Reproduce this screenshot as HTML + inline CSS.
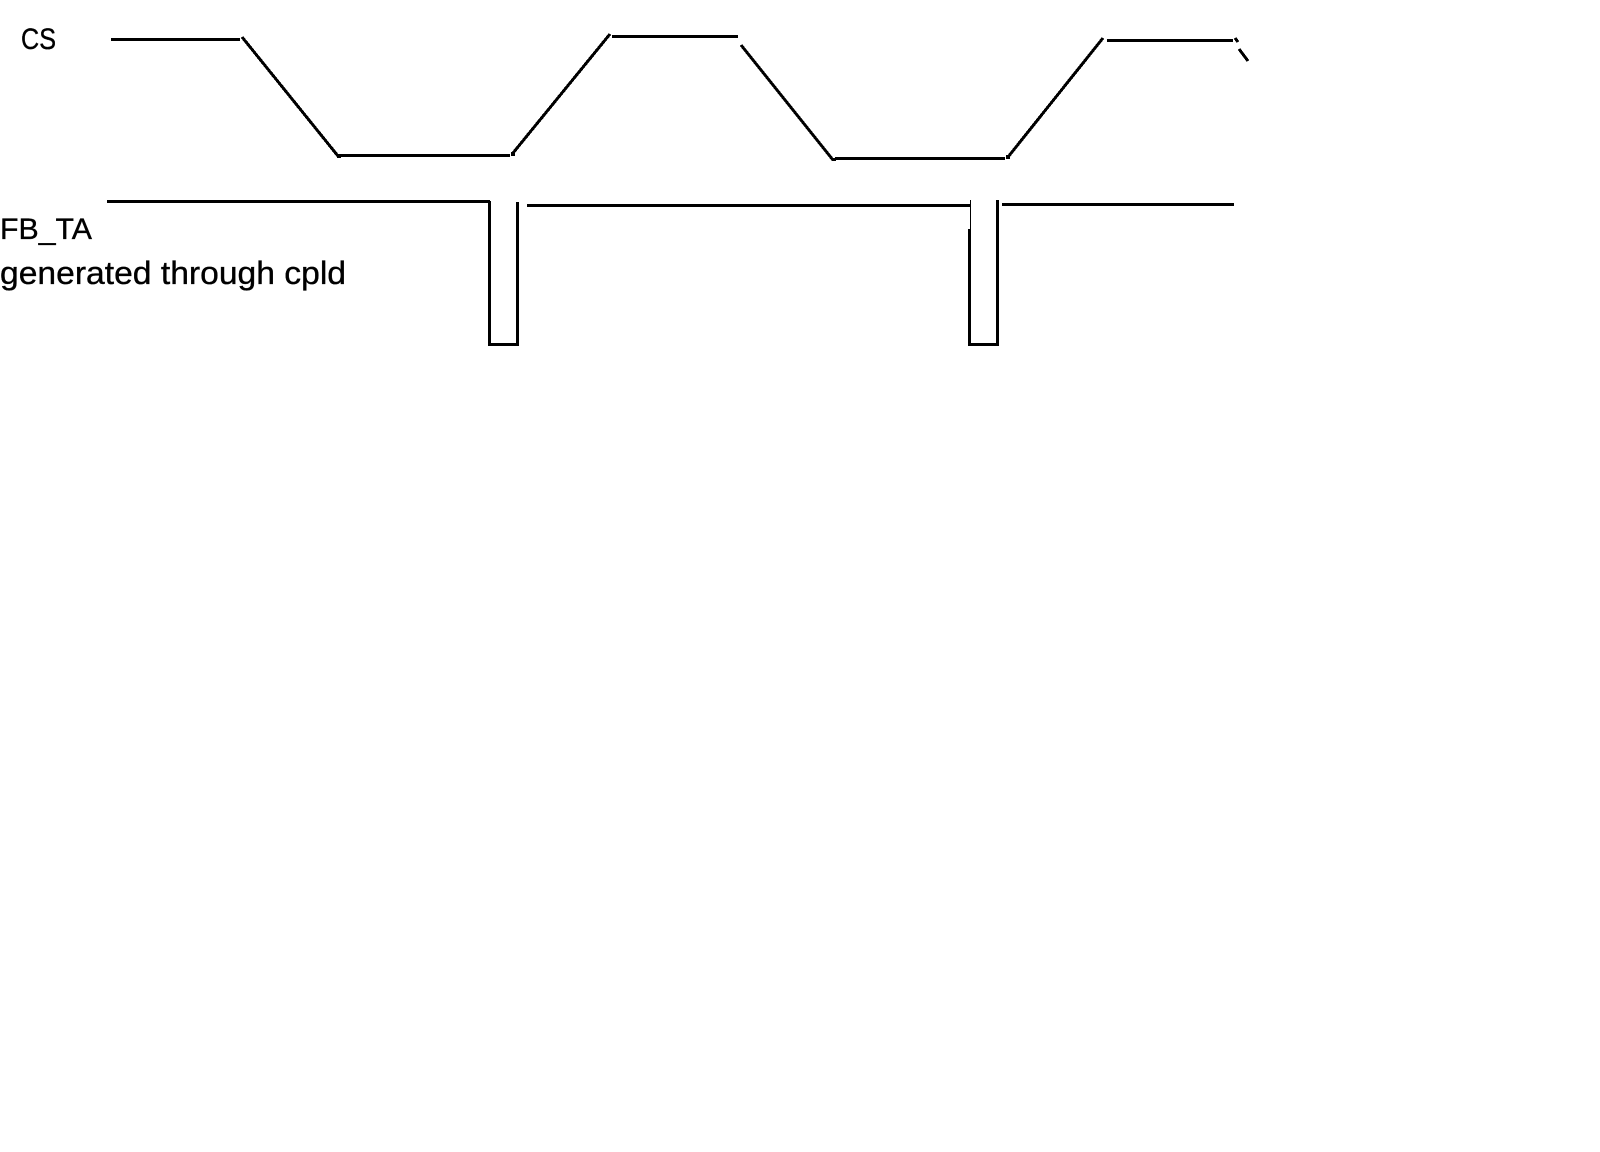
<!DOCTYPE html>
<html>
<head>
<meta charset="utf-8">
<style>
html,body{margin:0;padding:0;background:#fff;width:1600px;height:1152px;overflow:hidden}
svg{display:block}
text{font-family:"Liberation Sans",sans-serif;font-size:30px;fill:#000;stroke:#000;stroke-width:.35px}
</style>
</head>
<body>
<svg width="1600" height="1152" viewBox="0 0 1600 1152" xmlns="http://www.w3.org/2000/svg">
<rect width="1600" height="1152" fill="#fff"/>
<text x="21" y="49" textLength="35" lengthAdjust="spacingAndGlyphs">CS</text>
<text x="0" y="239" textLength="92" lengthAdjust="spacingAndGlyphs">FB_TA</text>
<text x="0" y="284" textLength="346" lengthAdjust="spacingAndGlyphs" style="font-size:32px">generated through cpld</text>
<g stroke="#000" stroke-width="3" fill="none" shape-rendering="crispEdges">
<path d="M111 39.5H240"/>
<path d="M242 37L338 156"/>
<path d="M338 155.5H510"/>
<path d="M513 153L610 34"/>
<path d="M612 36.5H738"/>
<path d="M741 45L833 160"/>
<path d="M835 158.5H1005"/>
<path d="M1008 157L1103 38"/>
<path d="M1107 40.5H1233"/>
<path d="M1235 38L1238 42"/>
<path d="M1239 49L1248 61"/>
<path d="M107 201.5H490"/>
<path d="M489.5 201V344.5H517.5V202"/>
<path d="M527 205.5H970"/>
<path d="M969.5 229V344.5H997.5V200"/>
<path d="M1002 204.5H1234"/>
<path d="M970.5 200V229" stroke-width="1"/>
</g>
<g fill="#000" shape-rendering="crispEdges">
<rect x="337" y="154" width="4" height="4"/>
<rect x="511" y="152" width="4" height="4"/>
<rect x="832" y="158" width="4" height="3"/>
<rect x="1006" y="155" width="4" height="4"/>
</g>
</svg>
</body>
</html>
